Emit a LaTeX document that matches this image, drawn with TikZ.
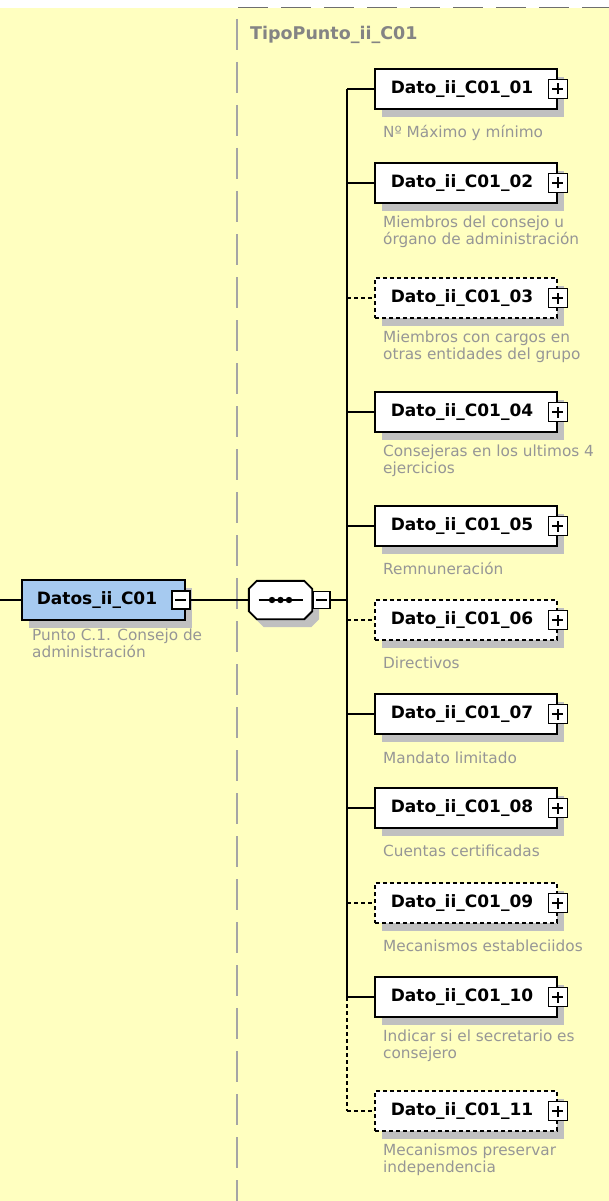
\documentclass[tikz,border=0pt]{standalone}
\usepackage{fontspec}
\setmainfont{DejaVu Sans}
\usetikzlibrary{shadows}

\definecolor{panelyellow}{RGB}{255,255,192}
\definecolor{elemblue}{RGB}{166,202,240}
\definecolor{shadowgray}{RGB}{192,192,192}
\definecolor{descgray}{RGB}{150,150,150}
\definecolor{framegray}{RGB}{165,165,165}
\definecolor{topgray}{RGB}{110,110,110}

\tikzset{
  conn/.style={line width=1.9pt},
  optline/.style={dash pattern=on 4pt off 3pt},
  elem/.style={draw, line width=1.9pt, fill=white, minimum width=182pt,
    minimum height=40pt, inner sep=0pt,
    font=\fontsize{17}{20}\selectfont\bfseries,
    execute at end node={\hspace{8pt}},
    drop shadow={shadow xshift=7pt, shadow yshift=-8pt, fill=shadowgray, opacity=1}},
  optelem/.style={elem, dash pattern=on 4pt off 3pt},
  mainelem/.style={elem, fill=elemblue, minimum width=163pt,
    execute at end node={\hspace{5pt}}},
  plusbox/.style={draw, solid, line width=1.6pt, fill=white, minimum size=19pt,
    inner sep=0pt, path picture={
      \draw[line width=1.6pt] ([xshift=-5.5pt]path picture bounding box.center)
        -- ([xshift=5.5pt]path picture bounding box.center)
        ([yshift=-5.5pt]path picture bounding box.center)
        -- ([yshift=5.5pt]path picture bounding box.center);}},
  minusbox/.style={draw, solid, line width=1.6pt, fill=white, minimum size=17pt,
    inner sep=0pt, path picture={
      \draw[line width=1.6pt] ([xshift=-5.5pt]path picture bounding box.center)
        -- ([xshift=5.5pt]path picture bounding box.center);}},
  seqbox/.style={minimum width=63pt, minimum height=38pt, inner sep=0pt},
  desc/.style={anchor=north west, yshift=16pt, align=left, inner sep=0pt,
    text=descgray, font=\fontsize{15.3}{17}\selectfont,
    execute at begin node={\rule{0pt}{16pt}}}
}

\begin{document}
\begin{tikzpicture}[x=1pt, y=-1pt]

  % panel
  \useasboundingbox (0,0) rectangle (609,1201);
  \fill[white] (0,0) rectangle (609,1201);
  \fill[panelyellow] (0,8) rectangle (609,1201);
  \draw[topgray, line width=1.8pt, dash pattern=on 30pt off 13pt] (238,7.5) -- (609,7.5);
  \draw[framegray, line width=1.8pt, dash pattern=on 31pt off 12pt] (237,19) -- (237,1201);
  \node[anchor=base west, inner sep=0pt, text=topgray!85,
        font=\fontsize{17.5}{20}\selectfont\bfseries] (ptype) at (250,40) {TipoPunto\_ii\_C01};

  % main element
  \node[mainelem] (main) at (103.5,600) {Datos\_ii\_C01};
  \node[minusbox, minimum size=18pt] (mainx) at ([xshift=-5pt]main.east) {};
  \node[desc] (maint) at (32,645) {Punto C.1. Consejo de\\administración};
  \coordinate (feed) at (0,600);
  \draw[conn] (feed) -- (main);

  % sequence
  \node[seqbox] (seq) at (280.5,600) {};
  \fill[shadowgray, transform canvas={shift={(7pt,-8pt)}}]
    ([xshift=8pt]seq.north west) -- ([xshift=-8pt]seq.north east)
    -- ([yshift=-8pt]seq.north east) -- ([yshift=8pt]seq.south east)
    -- ([xshift=-8pt]seq.south east) -- ([xshift=8pt]seq.south west)
    -- ([yshift=8pt]seq.south west) -- ([yshift=-8pt]seq.north west) -- cycle;
  \draw[conn, fill=white]
    ([xshift=8pt]seq.north west) -- ([xshift=-8pt]seq.north east)
    -- ([yshift=-8pt]seq.north east) -- ([yshift=8pt]seq.south east)
    -- ([xshift=-8pt]seq.south east) -- ([xshift=8pt]seq.south west)
    -- ([yshift=8pt]seq.south west) -- ([yshift=-8pt]seq.north west) -- cycle;
  \node[minusbox, anchor=west] (seqx) at (seq.east) {};
  \draw[conn] (mainx) -- (seq);
  \draw[conn] ([xshift=-22pt]seq.center) -- ([xshift=22pt]seq.center);
  \fill ([xshift=-8.5pt]seq.center) circle (3.2pt);
  \fill (seq.center) circle (3.2pt);
  \fill ([xshift=8.5pt]seq.center) circle (3.2pt);

  % children
  \node[elem] (d01) at (466,89) {Dato\_ii\_C01\_01};
  \node[plusbox] (d01x) at (d01.east) {};
  \node[desc] (d01t) at (383,137.5) {Nº Máximo y mínimo};

  \node[elem] (d02) at (466,183) {Dato\_ii\_C01\_02};
  \node[plusbox] (d02x) at (d02.east) {};
  \node[desc] (d02t) at (383,231.5) {Miembros del consejo u\\órgano de administración};

  \node[optelem] (d03) at (466,298) {Dato\_ii\_C01\_03};
  \node[plusbox] (d03x) at (d03.east) {};
  \node[desc] (d03t) at (383,346.5) {Miembros con cargos en\\otras entidades del grupo};

  \node[elem] (d04) at (466,412) {Dato\_ii\_C01\_04};
  \node[plusbox] (d04x) at (d04.east) {};
  \node[desc] (d04t) at (383,460.5) {Consejeras en los ultimos 4\\ejercicios};

  \node[elem] (d05) at (466,526) {Dato\_ii\_C01\_05};
  \node[plusbox] (d05x) at (d05.east) {};
  \node[desc] (d05t) at (383,574) {Remnuneración};

  \node[optelem] (d06) at (466,620) {Dato\_ii\_C01\_06};
  \node[plusbox] (d06x) at (d06.east) {};
  \node[desc] (d06t) at (383,668) {Directivos};

  \node[elem] (d07) at (466,714) {Dato\_ii\_C01\_07};
  \node[plusbox] (d07x) at (d07.east) {};
  \node[desc] (d07t) at (383,763) {Mandato limitado};

  \node[elem] (d08) at (466,808) {Dato\_ii\_C01\_08};
  \node[plusbox] (d08x) at (d08.east) {};
  \node[desc] (d08t) at (383,856.5) {Cuentas certificadas};

  \node[optelem] (d09) at (466,903) {Dato\_ii\_C01\_09};
  \node[plusbox] (d09x) at (d09.east) {};
  \node[desc] (d09t) at (383,951.5) {Mecanismos estableciidos};

  \node[elem] (d10) at (466,997) {Dato\_ii\_C01\_10};
  \node[plusbox] (d10x) at (d10.east) {};
  \node[desc] (d10t) at (383,1045.5) {Indicar si el secretario es\\consejero};

  \node[optelem] (d11) at (466,1111) {Dato\_ii\_C01\_11};
  \node[plusbox] (d11x) at (d11.east) {};
  \node[desc] (d11t) at (383,1159.5) {Mecanismos preservar\\independencia};

  % trunk
  \coordinate (trunk) at (347,600);
  \draw[conn] (seqx) -- (trunk);
  \draw[conn] (trunk |- d01.west) -- (trunk |- d10.west);
  \draw[conn, optline] (trunk |- d10.west) -- (trunk |- d11.west);
  \draw[conn] (trunk |- d01.west) -- (d01.west);
  \draw[conn] (trunk |- d02.west) -- (d02.west);
  \draw[conn, optline] (trunk |- d03.west) -- (d03.west);
  \draw[conn] (trunk |- d04.west) -- (d04.west);
  \draw[conn] (trunk |- d05.west) -- (d05.west);
  \draw[conn, optline] (trunk |- d06.west) -- (d06.west);
  \draw[conn] (trunk |- d07.west) -- (d07.west);
  \draw[conn] (trunk |- d08.west) -- (d08.west);
  \draw[conn, optline] (trunk |- d09.west) -- (d09.west);
  \draw[conn] (trunk |- d10.west) -- (d10.west);
  \draw[conn, optline] (trunk |- d11.west) -- (d11.west);

\end{tikzpicture}
\end{document}
